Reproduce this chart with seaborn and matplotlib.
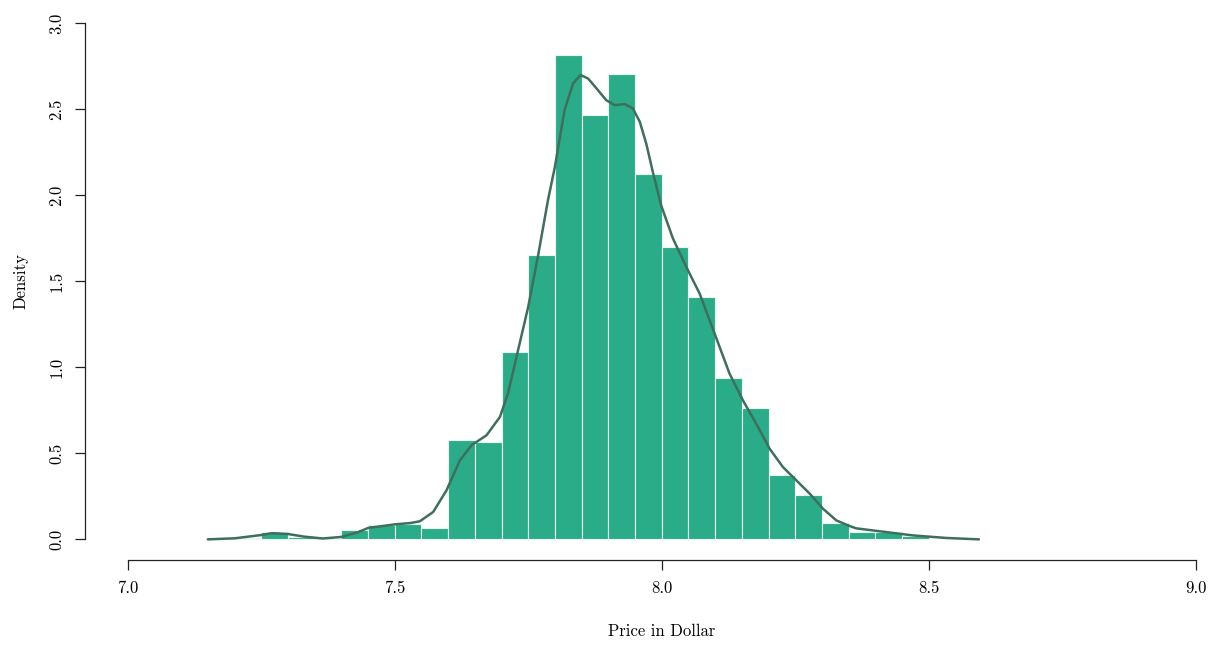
import matplotlib
matplotlib.use("Agg")
import matplotlib.pyplot as plt
import seaborn as sns

# ---- data ----
bin_edges = [7.15, 7.20, 7.25, 7.30, 7.35, 7.40, 7.45, 7.50, 7.55, 7.60, 7.65,
             7.70, 7.75, 7.80, 7.85, 7.90, 7.95, 8.00, 8.05, 8.10, 8.15,
             8.20, 8.25, 8.30, 8.35, 8.40, 8.45, 8.50]
bin_density = [0.0, 0.008, 0.040, 0.013, 0.0, 0.052, 0.083, 0.087, 0.066, 0.576,
               0.564, 1.087, 1.651, 2.814, 2.465, 2.703, 2.122, 1.698, 1.407,
               0.936, 0.762, 0.372, 0.258, 0.095, 0.040, 0.040, 0.020]

kde_x = [7.15, 7.20, 7.25, 7.27, 7.30, 7.33, 7.365, 7.40, 7.43, 7.45, 7.50,
         7.53, 7.547, 7.572, 7.597, 7.622, 7.644, 7.672, 7.697, 7.712, 7.731,
         7.750, 7.768, 7.787, 7.800, 7.818, 7.834, 7.848, 7.862, 7.878, 7.896,
         7.912, 7.931, 7.946, 7.959, 7.971, 7.984, 7.999, 8.021, 8.046, 8.071,
         8.099, 8.127, 8.152, 8.177, 8.202, 8.227, 8.252, 8.277, 8.302, 8.327,
         8.349, 8.364, 8.408, 8.47, 8.533, 8.594]
kde_y = [0.0, 0.006, 0.025, 0.036, 0.031, 0.016, 0.005, 0.014, 0.040, 0.066,
         0.087, 0.095, 0.105, 0.159, 0.285, 0.459, 0.547, 0.605, 0.711, 0.847,
         1.099, 1.351, 1.641, 1.971, 2.165, 2.494, 2.649, 2.698, 2.678, 2.620,
         2.552, 2.523, 2.529, 2.504, 2.426, 2.300, 2.126, 1.940, 1.748, 1.583,
         1.428, 1.196, 0.963, 0.808, 0.672, 0.527, 0.420, 0.343, 0.266, 0.178,
         0.110, 0.081, 0.064, 0.047, 0.023, 0.008, 0.0]

x_ticks = [7.0, 7.5, 8.0, 8.5, 9.0]
y_ticks = [0.0, 0.5, 1.0, 1.5, 2.0, 2.5, 3.0]

sns.set_style("white")
plt.rcParams['font.family'] = ['cmr10', 'DejaVu Serif']
plt.rcParams['axes.formatter.use_mathtext'] = True
plt.rcParams['text.color'] = 'black'
plt.rcParams['axes.labelcolor'] = 'black'
plt.rcParams['xtick.color'] = 'black'
plt.rcParams['ytick.color'] = 'black'

fig = plt.figure(figsize=(12.15, 6.46), dpi=100)
ax = fig.add_axes([85/1215, 86/646, 1130/1215, 557.6/646])

centers = [(a + b) / 2 for a, b in zip(bin_edges[:-1], bin_edges[1:])]
sns.histplot(x=centers, weights=bin_density, bins=bin_edges, stat="count",
             color="#2aac88", alpha=1.0, edgecolor="#e8f5ef", linewidth=0.8, ax=ax)
sns.lineplot(x=kde_x, y=kde_y, color="#3f6f5c", linewidth=1.8, ax=ax)

ax.set_xlim(6.92, 6.92 + 1130/534)
ax.set_ylim(-0.12, 3.12)
ax.set_xticks(x_ticks)
ax.set_xticklabels([f"{v:.1f}" for v in x_ticks])
ax.set_yticks(y_ticks)
ax.set_yticklabels([f"{v:.1f}" for v in y_ticks], rotation=90, va="center")
for s in ["top", "right"]:
    ax.spines[s].set_visible(False)
ax.spines["left"].set_bounds(0, 3)
ax.spines["bottom"].set_bounds(7, 9)
for s in ["left", "bottom"]:
    ax.spines[s].set_color("#222222")
    ax.spines[s].set_linewidth(0.9)
ax.tick_params(axis="both", direction="out", length=7, width=0.9, color="#222222",
               labelsize=12, pad=8, left=True, bottom=True)
ax.set_xlabel("Price in Dollar", fontsize=12, labelpad=20)
ax.xaxis.label.set_x((662 - 85) / 1130)
ax.set_ylabel("Density", fontsize=12, labelpad=15)
ax.grid(False)

fig.savefig("out.png", dpi=100)
